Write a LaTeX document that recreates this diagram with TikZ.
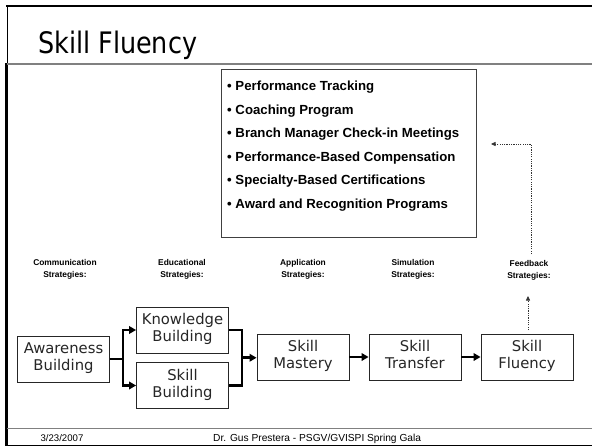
\documentclass[tikz,border=0pt]{standalone}
\usepackage{fontspec}
\setmainfont{Liberation Sans}
\newfontfamily\boxfont{DejaVu Sans}
\newfontfamily\titlefont[FakeStretch=0.86]{DejaVu Sans}
\usetikzlibrary{arrows.meta,calc}
\begin{document}
\begin{tikzpicture}[x=1pt,y=-1pt,
  stagebox/.style={draw=black!85, line width=0.8pt, fill=white, minimum width=92pt, minimum height=46pt,
    inner sep=0pt, align=center, text=black!85, font=\boxfont\fontsize{14.8}{17}\selectfont},
  stratlabel/.style={align=center, inner sep=0pt, font=\bfseries\fontsize{8.4}{12.3}\selectfont},
  listline/.style={anchor=base west, inner sep=0pt, font=\bfseries\fontsize{13.2}{15}\selectfont},
  flowline/.style={line width=2.8pt, line join=miter},
  flowarrow/.style={flowline, -{Triangle[length=7pt,width=7.5pt]}},
  dotarrow/.style={line width=0.7pt, black!80, dash pattern=on 1.2pt off 1.1pt, -{Triangle[length=4.5pt,width=4pt]}},
  frameline/.style={line width=2pt, black},
  greyline/.style={line width=1.6pt, black!50},
  footfont/.style={inner sep=0pt, font=\fontsize{9.6}{11}\selectfont}
]
\useasboundingbox (0,0) rectangle (592,447);
\fill[white] (0,0) rectangle (592,447);

% slide frame
\draw[frameline] (6,6) -- (592,6);
\draw[line width=1pt] (7,5) -- (7,63);
\draw[line width=2.6pt] (6.5,63) -- (6.5,446);
\draw[greyline] (7,63.8) -- (592,63.8);
\draw[greyline] (7,428.5) -- (592,428.5);
\draw[line width=1.5pt] (7,445.6) -- (592,445.6);

% title
\node[anchor=base west, inner sep=0pt, font=\titlefont\fontsize{29.6}{32}\selectfont] (title) at (38,53) {Skill Fluency};

% list box
\node[draw=black!75, line width=0.8pt, minimum width=255pt, minimum height=168pt, inner sep=0pt] (list) at (348.5,153) {};
\node[listline] (l1) at (227,90.7) {• Performance Tracking};
\node[listline] (l2) at (227,114.2) {• Coaching Program};
\node[listline] (l3) at (227,137.7) {• Branch Manager Check-in Meetings};
\node[listline] (l4) at (227,161.2) {• Performance-Based Compensation};
\node[listline] (l5) at (227,184.7) {• Specialty-Based Certifications};
\node[listline] (l6) at (227,208.2) {• Award and Recognition Programs};

% strategy labels
\node[stratlabel] (s1) at (65,269) {Communication\\Strategies:};
\node[stratlabel] (s2) at (182,269) {Educational\\Strategies:};
\node[stratlabel] (s3) at (303,269) {Application\\Strategies:};
\node[stratlabel] (s4) at (413,269) {Simulation\\Strategies:};
\node[stratlabel] (s5) at (529,270) {Feedback\\Strategies:};

% stage boxes
\node[stagebox] (aw) at (63.5,359) {\strut Awareness\\Building\strut};
\node[stagebox] (kb) at (182.5,330) {\strut Knowledge\\Building\strut};
\node[stagebox] (sb) at (182.5,385.5) {\strut Skill\\Building\strut};
\node[stagebox] (sm) at (303,357) {\strut Skill\\Mastery\strut};
\node[stagebox] (st) at (415,357) {\strut Skill\\Transfer\strut};
\node[stagebox] (sf) at (527,357) {\strut Skill\\Fluency\strut};

% fork and join connectors
\coordinate (jl) at ($(aw.east)+(13,0)$);
\draw[flowline] (aw.east) -- (jl);
\draw[flowarrow] (jl) |- (kb.west);
\draw[flowarrow] (jl) |- (sb.west);
\coordinate (jr) at ($(kb.east)!0.5!(sb.east)+(13,0)$);
\draw[flowline] (kb.east) -| (jr) |- (sb.east);
\draw[flowarrow] (jr) -- (jr -| sm.west);
\draw[flowarrow] (sm.east) -- (st.west);
\draw[flowarrow] (st.east) -- (sf.west);

% feedback dotted arrows
\coordinate (fbbottom) at (528,330);
\coordinate (fbtip) at (528,296);
\draw[dotarrow] (fbbottom) -- (fbtip);
\coordinate (fbstart) at (531,254);
\coordinate (fbcorner) at (531,144);
\coordinate (fbend) at (491,144);
\draw[dotarrow] (fbstart) -- (fbcorner) -- (fbend);

% footer
\node[footfont, anchor=base] (date) at (62,441) {3/23/2007};
\node[footfont, anchor=base west, font=\fontsize{10.2}{11}\selectfont] (foot) at (213,441) {Dr. Gus Prestera - PSGV/GVISPI Spring Gala};
\end{tikzpicture}
\end{document}
